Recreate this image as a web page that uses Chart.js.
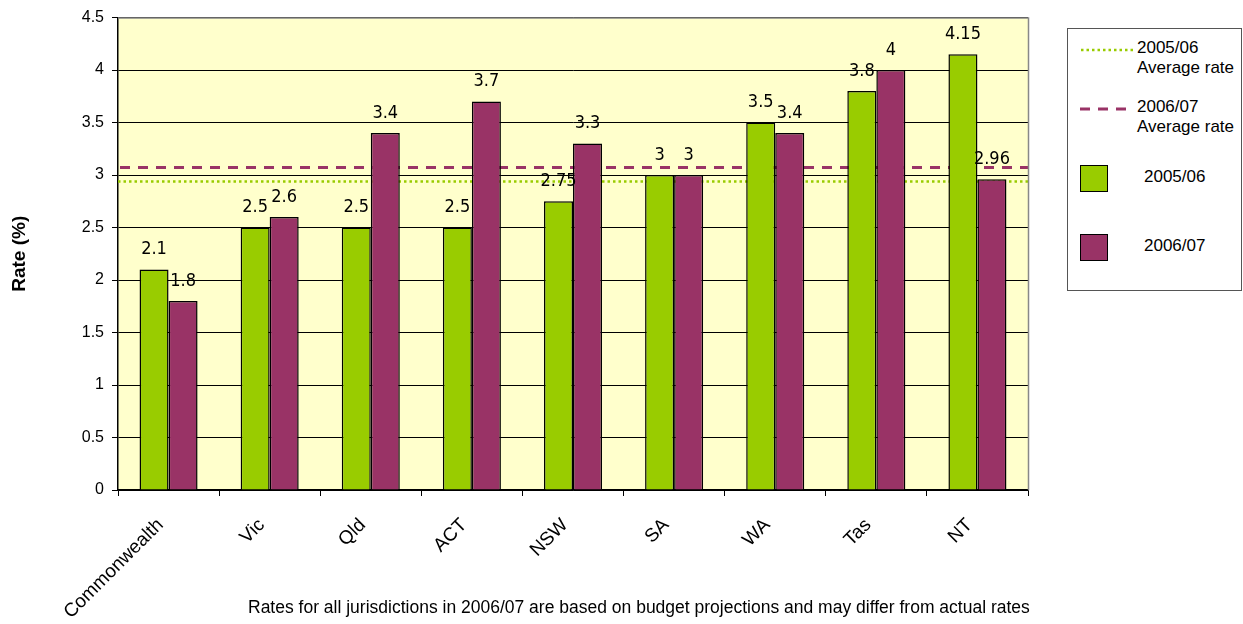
<!DOCTYPE html>
<html>
<head>
<meta charset="utf-8">
<script src="https://cdn.jsdelivr.net/npm/chart.js@4/dist/chart.umd.min.js"></script>
<style>
  html, body { margin: 0; padding: 0; background: #ffffff; }
  #wrap { position: relative; width: 1243px; height: 624px; font-family: "Liberation Sans", Arial, sans-serif; }
  #chart { position: absolute; left: 0; top: 0; }
  #legend {
    position: absolute; left: 1067px; top: 28px; width: 175px; height: 263px;
    border: 1px solid #555; box-sizing: border-box; background: #fff;
    font-size: 17px; color: #000;
  }
  .lg { position: absolute; }
  .note { position: absolute; left: 248px; top: 597px; font-size: 17.5px; color: #000; white-space: nowrap; }
</style>
</head>
<body>
<div id="wrap">
  <canvas id="chart" width="1243" height="624"></canvas>
  <div id="legend">
    <svg class="lg" style="left:12px;top:17px" width="54" height="8">
      <line x1="1" y1="4" x2="54" y2="4" stroke="#99CC00" stroke-width="2.5" stroke-dasharray="2.5,3"/>
    </svg>
    <div class="lg" style="left:69px;top:9px;line-height:20px">2005/06<br>Average rate</div>
    <svg class="lg" style="left:12px;top:76px" width="54" height="8">
      <line x1="0" y1="4" x2="54" y2="4" stroke="#993366" stroke-width="3" stroke-dasharray="10,8"/>
    </svg>
    <div class="lg" style="left:69px;top:68px;line-height:20px">2006/07<br>Average rate</div>
    <div class="lg" style="left:12px;top:136px;width:26px;height:25px;background:#99CC00;border:1px solid #000"></div>
    <div class="lg" style="left:76px;top:138px">2005/06</div>
    <div class="lg" style="left:12px;top:205px;width:26px;height:25px;background:#993366;border:1px solid #000"></div>
    <div class="lg" style="left:76px;top:207px">2006/07</div>
  </div>
  <div class="note">Rates for all jurisdictions in 2006/07 are based on budget projections and may differ from actual rates</div>
</div>
<script>
// Jurisdictions along the x axis
const categories = ['Commonwealth', 'Vic', 'Qld', 'ACT', 'NSW', 'SA', 'WA', 'Tas', 'NT'];
// Rates (%) by year
const rates0506 = [2.1, 2.5, 2.5, 2.5, 2.75, 3, 3.5, 3.8, 4.15];
const rates0607 = [1.8, 2.6, 3.4, 3.7, 3.3, 3, 3.4, 4, 2.96];
// Average rate reference lines
const avg0506 = 2.94;
const avg0607 = 3.08;
// Y axis tick values
const yTicks = [0, 0.5, 1, 1.5, 2, 2.5, 3, 3.5, 4, 4.5];

const GREEN = '#99CC00';
const PURPLE = '#993366';

// Yellow plot area, average lines behind bars, gray top/right frame
const plotDecor = {
  id: 'plotDecor',
  beforeDraw(chart) {
    const a = chart.chartArea, c = chart.ctx;
    c.save();
    c.fillStyle = '#FFFFCC';
    c.fillRect(a.left, a.top, a.right - a.left, a.bottom - a.top);
    c.restore();
  },
  beforeDatasetsDraw(chart) {
    const a = chart.chartArea, c = chart.ctx, y = chart.scales.y;
    c.save();
    // 2005/06 average, dotted
    c.strokeStyle = GREEN; c.lineWidth = 2.5; c.setLineDash([2.5, 3]);
    let py = Math.round(y.getPixelForValue(avg0506)) + 0.5;
    c.beginPath(); c.moveTo(a.left, py); c.lineTo(a.right, py); c.stroke();
    // 2006/07 average, dashed
    c.strokeStyle = PURPLE; c.lineWidth = 3; c.setLineDash([10, 8]);
    py = Math.round(y.getPixelForValue(avg0607)) + 0.5;
    c.beginPath(); c.moveTo(a.left + 2, py); c.lineTo(a.right, py); c.stroke();
    c.restore();
  },
  afterDraw(chart) {
    const a = chart.chartArea, c = chart.ctx;
    c.save();
    c.strokeStyle = '#888'; c.lineWidth = 1.5;
    c.beginPath();
    c.moveTo(a.left, a.top + 0.5); c.lineTo(a.right + 0.5, a.top + 0.5); c.lineTo(a.right + 0.5, a.bottom);
    c.stroke();
    c.restore();
  }
};

// Value labels centred above each bar
const valueLabels = {
  id: 'valueLabels',
  afterDatasetsDraw(chart) {
    const c = chart.ctx;
    c.save();
    c.font = '18px "Liberation Sans Narrow", "DejaVu Sans Condensed", sans-serif';
    c.fillStyle = '#000';
    c.textAlign = 'center';
    c.textBaseline = 'middle';
    chart.data.datasets.forEach((ds, di) => {
      const meta = chart.getDatasetMeta(di);
      meta.data.forEach((bar, i) => {
        c.fillText(String(ds.data[i]), bar.x, bar.y - 20);
      });
    });
    c.restore();
  }
};

new Chart(document.getElementById('chart'), {
  type: 'bar',
  data: {
    labels: categories,
    datasets: [
      { label: '2005/06', data: rates0506, backgroundColor: GREEN, borderColor: '#000', borderWidth: 1.5 },
      { label: '2006/07', data: rates0607, backgroundColor: PURPLE, borderColor: '#000', borderWidth: 1.5 }
    ]
  },
  options: {
    responsive: false,
    animation: false,
    events: [],
    datasets: { bar: { categoryPercentage: 0.574, barPercentage: 1.0 } },
    layout: { padding: { left: 8, right: 215, top: 10, bottom: 0 } },
    plugins: { legend: { display: false }, tooltip: { enabled: false } },
    scales: {
      x: {
        grid: { offset: true, drawOnChartArea: false, drawTicks: true, tickLength: 6, color: '#000' },
        border: { color: '#000', width: 1.5 },
        ticks: {
          color: '#000', minRotation: 45, maxRotation: 45, padding: 18, labelOffset: -8,
          font: { family: '"Liberation Sans", Arial, sans-serif', size: 19 }
        },
        afterFit(s) { s.height = 134; }
      },
      y: {
        min: 0, max: 4.5,
        afterBuildTicks(s) { s.ticks = yTicks.map(v => ({ value: v })); },
        grid: { color: '#000', lineWidth: 1, tickLength: 6, drawTicks: true },
        border: { color: '#000', width: 1.5 },
        ticks: {
          color: '#000', padding: 8,
          callback: (v) => String(v),
          font: { family: '"Liberation Sans", Arial, sans-serif', size: 16 }
        },
        title: {
          display: true, text: 'Rate (%)', color: '#000', padding: 0,
          font: { family: '"Liberation Sans", Arial, sans-serif', size: 19, weight: 'bold' }
        },
        afterFit(s) { s.width = 110; }
      }
    }
  },
  plugins: [plotDecor, valueLabels]
});
</script>
</body>
</html>
